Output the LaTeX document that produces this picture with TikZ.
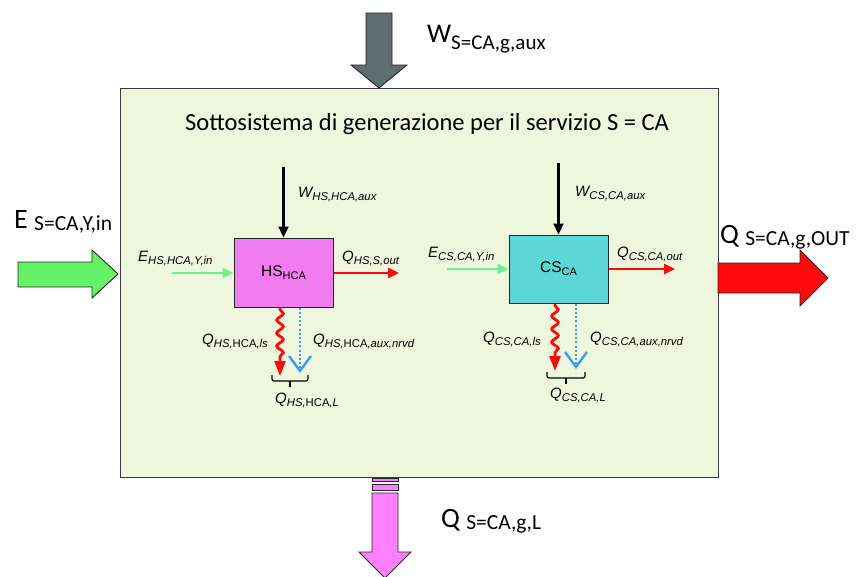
\documentclass[tikz,border=0pt]{standalone}
\usepackage{fontspec}
\setmainfont{Carlito}
\newfontfamily\arial{Liberation Sans}
\usetikzlibrary{arrows.meta,decorations.pathmorphing}
\definecolor{boxfill}{HTML}{EEF7DE}
\definecolor{boxline}{HTML}{3A3A3A}
\definecolor{grayarr}{HTML}{5F6F6F}
\definecolor{greenarr}{HTML}{66F266}
\definecolor{ingreen}{HTML}{6EF08A}
\definecolor{redarr}{HTML}{FF0A0A}
\definecolor{pinkarr}{HTML}{FF80FF}
\definecolor{hsfill}{HTML}{F07CF0}
\definecolor{csfill}{HTML}{5CD6D6}
\definecolor{dotblue}{HTML}{3D9BF0}
\newcommand\sbb[1]{\raisebox{-3.8pt}{\fontsize{11.3}{13}\selectfont #1}}
\tikzset{
  blk/.style={draw=black!85, line width=0.9pt, line join=miter},
  inarr/.style={line width=2.6pt, -{Triangle[length=11pt,width=10pt]}},
  lab/.style={anchor=base west, inner sep=0pt, font=\arial\itshape\fontsize{15}{17}\selectfont},
  biglab/.style={anchor=base west, inner sep=0pt, font=\fontsize{28}{32}\selectfont},
  unit/.style={draw=black!85, line width=1pt, inner sep=0pt, font=\arial\fontsize{15.5}{17}\selectfont},
  wavy/.style={redarr, line width=2.8pt, decorate,
    decoration={snake, amplitude=3.3pt, segment length=13pt, pre length=2pt, post length=14pt},
    -{Triangle[length=15pt,width=11pt]}},
  lossarr/.style={dotblue, line width=2pt, dash pattern=on 2pt off 2.2pt,
    -{Straight Barb[length=15pt,width=22pt,line width=2.4pt]}},
  bracket/.style={line width=1.2pt, rounded corners=2pt},
}
\begin{document}
\begin{tikzpicture}[x=1pt,y=-1pt]
\useasboundingbox (0,0) rectangle (857,576);
% main subsystem box
\node[draw=boxline, line width=1.3pt, fill=boxfill, minimum width=598pt, minimum height=389pt,
  inner sep=0pt, anchor=north west] (sys) at (120,88) {};
\node[font=\fontsize{24.5}{28}\selectfont, inner sep=0pt] (title) at (427,124)
  {Sottosistema di generazione per il servizio S = CA};
% top grey arrow
\draw[blk, fill=grayarr] (366,13) -- (392,13) -- (392,65) -- (407,65) -- (379,88) -- (351,65) -- (366,65) -- cycle;
\node[biglab, font=\fontsize{27}{30}\selectfont] (wtot) at (427,42) {W\raisebox{-7pt}{\fontsize{21}{24}\selectfont S=CA,g,aux}};
% left green arrow
\draw[blk, fill=greenarr] (18,262) -- (92,262) -- (92,250) -- (118,274) -- (92,298) -- (92,287) -- (18,287) -- cycle;
\node[biglab] (etot) at (14,228) {E \raisebox{-2pt}{\fontsize{21.5}{24}\selectfont S=CA,Y,in}};
% right red arrow
\draw[blk, fill=redarr] (718,263) -- (800,263) -- (800,250) -- (828,278) -- (800,306) -- (800,293) -- (718,293) -- cycle;
\node[biglab] (qout) at (720,243) {Q \raisebox{-2pt}{\fontsize{21.5}{24}\selectfont S=CA,g,OUT}};
% bottom pink arrow
\draw[blk, fill=pinkarr] (372,478) rectangle (398,481);
\draw[blk, fill=pinkarr] (372,484) rectangle (398,490);
\draw[blk, fill=pinkarr] (372,493) -- (398,493) -- (398,552) -- (411,552) -- (385,578) -- (359,552) -- (372,552) -- cycle;
\node[biglab] (qloss) at (441,527) {Q \raisebox{-2pt}{\fontsize{21.5}{24}\selectfont S=CA,g,L}};

% ===== HS unit =====
\node[unit, fill=hsfill, minimum width=99pt, minimum height=69pt] (hs) at (283.5,272.5) {HS\raisebox{-3pt}{\fontsize{11}{12}\selectfont HCA}};
\coordinate (hsW) at (283.5,167);
\coordinate (hsE) at (172,273);
\coordinate (hsO) at (399,273);
\coordinate (hsLs) at (280,376);
\coordinate (hsAx) at (300,373);
\draw[inarr, black, line width=2.2pt] (hsW) -- (hs.north);
\draw[inarr, ingreen] (hsE) -- (hsE -| hs.west);
\draw[inarr, redarr] (hsO -| hs.east) -- (hsO);
\draw[wavy] (hsLs |- hs.south) -- (hsLs);
\draw[lossarr] (hsAx |- hs.south) -- (hsAx);
\draw[bracket] (272,375) -- (272,381) -- (308,381) -- (308,375);
\draw[line width=1.2pt] (290,381) -- (290,387);
\node[lab] (lhsW) at (298,197) {W\sbb{HS,HCA,aux}};
\node[lab] (lhsE) at (138,261) {E\sbb{HS,HCA,Y,in}};
\node[lab] (lhsO) at (342,261) {Q\sbb{HS,S,out}};
\node[lab] (lhsLs) at (202,344) {Q\sbb{HS,\upshape HCA\itshape ,ls}};
\node[lab] (lhsAx) at (313,344) {Q\sbb{HS,\upshape HCA\itshape ,aux,nrvd}};
\node[lab] (lhsL) at (275,403) {Q\sbb{HS,\upshape HCA\itshape ,L}};

% ===== CS unit =====
\node[unit, fill=csfill, minimum width=99pt, minimum height=68pt] (cs) at (558.5,269) {CS\raisebox{-3pt}{\fontsize{11}{12}\selectfont CA}};
\coordinate (csW) at (558.5,163);
\coordinate (csE) at (447,269);
\coordinate (csO) at (675,269);
\coordinate (csLs) at (555,371);
\coordinate (csAx) at (576,369);
\draw[inarr, black, line width=2.2pt] (csW) -- (cs.north);
\draw[inarr, ingreen] (csE) -- (csE -| cs.west);
\draw[inarr, redarr] (csO -| cs.east) -- (csO);
\draw[wavy] (csLs |- cs.south) -- (csLs);
\draw[lossarr] (csAx |- cs.south) -- (csAx);
\draw[bracket] (547,372) -- (547,378) -- (585,378) -- (585,372);
\draw[line width=1.2pt] (566,378) -- (566,384);
\node[lab] (lcsW) at (575,196) {W\sbb{CS,CA,aux}};
\node[lab] (lcsE) at (428,257) {E\sbb{CS,CA,Y,in}};
\node[lab] (lcsO) at (617,257) {Q\sbb{CS,CA,out}};
\node[lab] (lcsLs) at (483,342) {Q\sbb{CS,CA,ls}};
\node[lab] (lcsAx) at (590,342) {Q\sbb{CS,CA,aux,nrvd}};
\node[lab] (lcsL) at (550,398) {Q\sbb{CS,CA,L}};
\end{tikzpicture}
\end{document}
